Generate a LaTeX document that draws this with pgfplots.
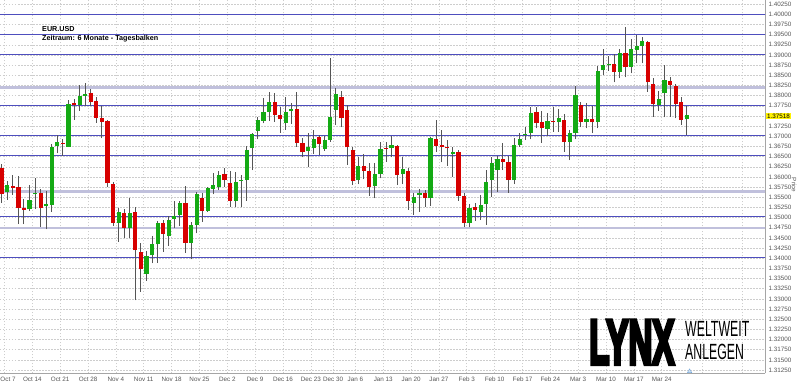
\documentclass[border=0pt]{standalone}
\usepackage{fontspec}
\setmainfont{Liberation Sans}
\newfontfamily\lynxfont{Liberation Sans}[FakeBold=7]
\usepackage{graphicx}
\usepackage{pgfplots}
\pgfplotsset{compat=1.18}
\usepackage{pgfplotstable}
\definecolor{cup}{RGB}{20,170,20}
\definecolor{cdn}{RGB}{215,0,0}
\definecolor{wick}{RGB}{85,85,85}
\definecolor{lblue}{RGB}{78,78,190}
\definecolor{llav}{RGB}{192,192,220}
\definecolor{gridc}{RGB}{205,205,205}
\definecolor{axc}{RGB}{165,165,165}
\definecolor{txtc}{RGB}{85,85,85}
\definecolor{tri}{RGB}{120,170,220}

\pgfplotstableread{
x o h l c
1 1.35638 1.35901 1.35434 1.35802
5 1.35205 1.35802 1.35163 1.35434
6 1.35581 1.35975 1.35207 1.35613
8 1.35286 1.35662 1.34713 1.35328
9 1.35311 1.36811 1.35146 1.36744
10 1.36754 1.37032 1.36582 1.36867
12 1.36744 1.37900 1.36737 1.37789
14 1.37770 1.38254 1.37630 1.37998
15 1.38003 1.38323 1.37750 1.38035
21 1.34875 1.35225 1.34408 1.35131
23 1.34752 1.35475 1.34492 1.35107
26 1.33614 1.34179 1.33449 1.34057
27 1.34074 1.34556 1.33877 1.34344
28 1.34344 1.34929 1.33889 1.34861
30 1.34548 1.35028 1.34302 1.34942
31 1.34974 1.35416 1.34738 1.35048
32 1.35065 1.35421 1.34794 1.35355
34 1.34384 1.34900 1.33975 1.34819
35 1.34819 1.35638 1.34615 1.35574
37 1.35171 1.35761 1.35146 1.35721
38 1.35716 1.36090 1.35574 1.35795
39 1.35761 1.36154 1.35680 1.36048
42 1.35416 1.36129 1.35254 1.35884
43 1.35908 1.36048 1.35269 1.35933
44 1.35925 1.36769 1.35416 1.36663
45 1.36705 1.37074 1.36171 1.37049
46 1.37138 1.37482 1.36926 1.37401
47 1.37384 1.37934 1.37320 1.37605
48 1.37605 1.38097 1.37384 1.37851
51 1.37320 1.37974 1.37155 1.37605
52 1.37615 1.37811 1.37302 1.37679
55 1.36638 1.37074 1.36238 1.36744
56 1.36705 1.37155 1.36565 1.36941
58 1.36688 1.37007 1.36646 1.36909
59 1.36909 1.38918 1.36867 1.37482
60 1.37647 1.38180 1.37278 1.38033
64 1.35925 1.36498 1.35827 1.36270
67 1.35785 1.36336 1.35475 1.36073
68 1.36066 1.36867 1.35967 1.36688
70 1.36705 1.37007 1.36484 1.36779
72 1.36066 1.36484 1.35827 1.36189
74 1.35367 1.35598 1.35065 1.35515
75 1.35557 1.35697 1.35146 1.35598
77 1.35475 1.36975 1.35286 1.36951
81 1.36557 1.36744 1.36007 1.36621
84 1.34861 1.35335 1.34762 1.35244
86 1.35146 1.35557 1.34942 1.35311
87 1.35335 1.36171 1.34819 1.35884
88 1.35925 1.36498 1.35515 1.36336
89 1.36171 1.36516 1.35638 1.36434
92 1.35925 1.36951 1.35827 1.36793
93 1.36793 1.37093 1.36737 1.36926
94 1.37032 1.37229 1.36909 1.37057
95 1.37074 1.37713 1.36926 1.37580
98 1.37180 1.37580 1.37007 1.37384
100 1.37344 1.37664 1.37113 1.37443
102 1.36867 1.37155 1.36417 1.37074
103 1.37074 1.38244 1.36926 1.38016
105 1.37359 1.37811 1.37197 1.37425
107 1.37359 1.38729 1.37197 1.38613
108 1.38630 1.39139 1.38507 1.38753
109 1.38746 1.38975 1.38606 1.38770
111 1.38589 1.39147 1.38426 1.39041
113 1.38711 1.39385 1.38549 1.39139
114 1.39122 1.39491 1.38795 1.39221
115 1.39228 1.39434 1.38795 1.39343
118 1.37770 1.38114 1.37630 1.37917
119 1.38057 1.38753 1.37467 1.38384
123 1.37418 1.37745 1.37032 1.37518
}\upt

\pgfplotstableread{
x o h l c
0 1.36213 1.36312 1.35367 1.35574
2 1.35778 1.36056 1.35564 1.35729
3 1.35741 1.36024 1.34843 1.35244
4 1.35244 1.35458 1.34843 1.35188
7 1.35613 1.35709 1.34777 1.35230
11 1.36843 1.36926 1.36516 1.36818
13 1.37811 1.37922 1.37401 1.37762
16 1.38072 1.38163 1.37750 1.37851
17 1.37856 1.37974 1.37339 1.37457
18 1.37445 1.37745 1.36951 1.37359
19 1.37364 1.37401 1.35746 1.35844
20 1.35832 1.35884 1.34794 1.34875
22 1.35121 1.35212 1.34492 1.34752
24 1.35139 1.35269 1.32963 1.34204
25 1.34162 1.34369 1.33179 1.33730
29 1.34861 1.34942 1.34162 1.34598
33 1.35352 1.35778 1.34138 1.34384
36 1.35490 1.35613 1.34900 1.35171
40 1.36066 1.36213 1.35761 1.35925
41 1.35844 1.36154 1.35254 1.35416
49 1.37851 1.38057 1.37359 1.37524
50 1.37516 1.37728 1.37089 1.37418
53 1.37679 1.38097 1.36744 1.36843
54 1.36843 1.36951 1.36484 1.36606
57 1.36990 1.37032 1.36540 1.36811
61 1.37974 1.38121 1.37221 1.37443
62 1.37647 1.37770 1.36294 1.36730
63 1.36671 1.36744 1.35802 1.35889
65 1.36277 1.36565 1.35943 1.36154
66 1.36154 1.36336 1.35532 1.35761
69 1.36720 1.36852 1.36375 1.36688
71 1.36769 1.36786 1.35802 1.36048
73 1.36154 1.36213 1.35188 1.35416
76 1.35598 1.35680 1.35269 1.35475
78 1.36926 1.37401 1.36621 1.36769
79 1.36779 1.37155 1.36361 1.36744
80 1.36744 1.36909 1.36270 1.36705
82 1.36621 1.36663 1.35416 1.35539
83 1.35539 1.35598 1.34777 1.34875
85 1.35269 1.35367 1.34925 1.35188
90 1.36442 1.36843 1.36171 1.36375
91 1.36380 1.36516 1.35613 1.35925
96 1.37592 1.37728 1.37197 1.37320
97 1.37359 1.37630 1.36843 1.37197
99 1.37376 1.37713 1.37113 1.37352
101 1.37401 1.37541 1.36621 1.36867
104 1.37770 1.37851 1.37221 1.37359
106 1.37425 1.37745 1.37074 1.37344
110 1.38770 1.39016 1.38328 1.38589
112 1.39041 1.39680 1.38451 1.38697
116 1.39326 1.39351 1.38097 1.38328
117 1.38286 1.38426 1.37482 1.37794
120 1.38360 1.38451 1.37482 1.38261
121 1.38237 1.38286 1.37443 1.37794
122 1.37851 1.37959 1.37278 1.37401
}\dnt

\begin{document}
\begin{tikzpicture}
\begin{axis}[
  at={(0pt,11.7pt)}, anchor=south west,
  width=765pt, height=373.3pt, scale only axis,
  xmin=-0.305, xmax=137.04, ymin=1.31172, ymax=1.40352,
  axis x line*=bottom, axis y line*=right,
  axis line style={axc, line width=0.8pt},
  xtick={0.5,5.5,10.5,15.5,20.5,25.5,30.5,35.5,40.5,45.5,50.5,55.5,59.5,63.5,68.5,73.5,78.5,83.5,88.5,93.5,98.5,103.5,108.5,113.5,118.5},
  xticklabels={\makebox[8pt][l]{Oct 7},Oct 14,Oct 21,Oct 28,Nov 4,Nov 11,Nov 18,Nov 25,Dec 2,Dec 9,Dec 16,Dec 23,Dec 30,Jan 6,Jan 13,Jan 20,Jan 27,Feb 3,Feb 10,Feb 17,Feb 24,Mar 3,Mar 10,Mar 17,Mar 24},
  extra x ticks={125.7,132.9}, extra x tick labels={},
  ytick={1.3125,1.315,1.3175,1.32,1.3225,1.325,1.3275,1.33,1.3325,1.335,1.3375,1.34,1.3425,1.345,1.3475,1.35,1.3525,1.355,1.3575,1.36,1.3625,1.365,1.3675,1.37,1.3725,1.3775,1.38,1.3825,1.385,1.3875,1.39,1.3925,1.395,1.3975,1.40,1.4025},
  extra y ticks={1.375}, extra y tick labels={},
  extra tick style={grid=major, major grid style={gridc, dash pattern=on 1.5pt off 1.5pt, line width=0.6pt}},
  scaled y ticks=false,
  /pgf/number format/assume math mode=true,
  yticklabel style={/pgf/number format/.cd, fixed, fixed zerofill, precision=5, /tikz/.cd, font=\fontsize{6.3}{7}\selectfont, text=txtc},
  xticklabel style={font=\fontsize{6.3}{7}\selectfont, text=txtc},
  major tick length=0pt,
  grid=major, major grid style={gridc, dash pattern=on 1.5pt off 1.5pt, line width=0.6pt},
]
% reference lines
\addplot[llav, line width=2.2pt, forget plot] coordinates {(-1,1.3820) (140,1.3820)};
\addplot[llav, line width=2.2pt, forget plot] coordinates {(-1,1.35645) (140,1.35645)};
\addplot[llav, line width=2.2pt, forget plot] coordinates {(-1,1.34752) (140,1.34752)};
\addplot[lblue, line width=1.1pt, forget plot] coordinates {(-1,1.4000) (140,1.4000)};
\addplot[lblue, line width=1.1pt, forget plot] coordinates {(-1,1.3951) (140,1.3951)};
\addplot[lblue, line width=1.1pt, forget plot] coordinates {(-1,1.3902) (140,1.3902)};
\addplot[lblue, line width=1.1pt, forget plot] coordinates {(-1,1.37755) (140,1.37755)};
\addplot[lblue, line width=1.1pt, forget plot] coordinates {(-1,1.3701) (140,1.3701)};
\addplot[lblue, line width=1.1pt, forget plot] coordinates {(-1,1.3652) (140,1.3652)};
\addplot[lblue, line width=1.1pt, forget plot] coordinates {(-1,1.35025) (140,1.35025)};
\addplot[lblue, line width=1.1pt, forget plot] coordinates {(-1,1.3402) (140,1.3402)};
% wicks
\addplot[draw=none, mark=none, forget plot, error bars/.cd, y dir=plus, y explicit, error mark=none,
  error bar style={draw=wick, line width=1pt}]
  table[x=x, y=l, y error expr=\thisrow{h}-\thisrow{l}] {\upt};
\addplot[draw=none, mark=none, forget plot, error bars/.cd, y dir=plus, y explicit, error mark=none,
  error bar style={draw=wick, line width=1pt}]
  table[x=x, y=l, y error expr=\thisrow{h}-\thisrow{l}] {\dnt};
% bodies
\addplot[draw=none, mark=none, forget plot, error bars/.cd, y dir=plus, y explicit, error mark=none,
  error bar style={draw=cup, line width=4.2pt}]
  table[x=x, y=o, y error expr=\thisrow{c}-\thisrow{o}] {\upt};
\addplot[draw=none, mark=none, forget plot, error bars/.cd, y dir=plus, y explicit, error mark=none,
  error bar style={draw=cdn, line width=4.2pt}]
  table[x=x, y=c, y error expr=\thisrow{o}-\thisrow{c}] {\dnt};
% marker at bottom
\addplot[only marks, mark=triangle*, mark size=2.5pt, mark options={fill=tri!35, draw=tri}, forget plot]
  coordinates {(123.5,1.3122)};
\end{axis}
% texts
\node[anchor=west, inner sep=0, font=\fontsize{7.2}{8}\selectfont\bfseries] at (42pt,356pt) {EUR.USD};
\node[anchor=west, inner sep=0, font=\fontsize{7.2}{8}\selectfont\bfseries] at (42pt,346pt) {Zeitraum: 6 Monate - Tagesbalken};
\node[fill=yellow, inner sep=0.8pt, anchor=west, font=\fontsize{6.3}{7}\selectfont] at (766pt,269pt) {1.37518};
\node[rotate=-90, inner sep=0, font=\fontsize{6.3}{7}\selectfont, text=txtc] at (794pt,200pt) {Price};
% logo
\node[anchor=base west, inner sep=0] at (589pt,21pt) {\raisebox{0pt}[\height][0pt]{\scalebox{0.525}[1]{\fontsize{63}{63}\selectfont\lynxfont\bfseries LYNX}}};
\node[anchor=base west, inner sep=0] at (685pt,48pt) {\raisebox{0pt}[\height][0pt]{\scalebox{0.56}[1]{\fontsize{22}{22}\selectfont WELTWEIT}}};
\node[anchor=base west, inner sep=0] at (685pt,25pt) {\raisebox{0pt}[\height][0pt]{\scalebox{0.56}[1]{\fontsize{22}{22}\selectfont ANLEGEN}}};
\pgfresetboundingbox
\path[use as bounding box] (0,0) rectangle (800pt,385pt);
\end{tikzpicture}
\end{document}
